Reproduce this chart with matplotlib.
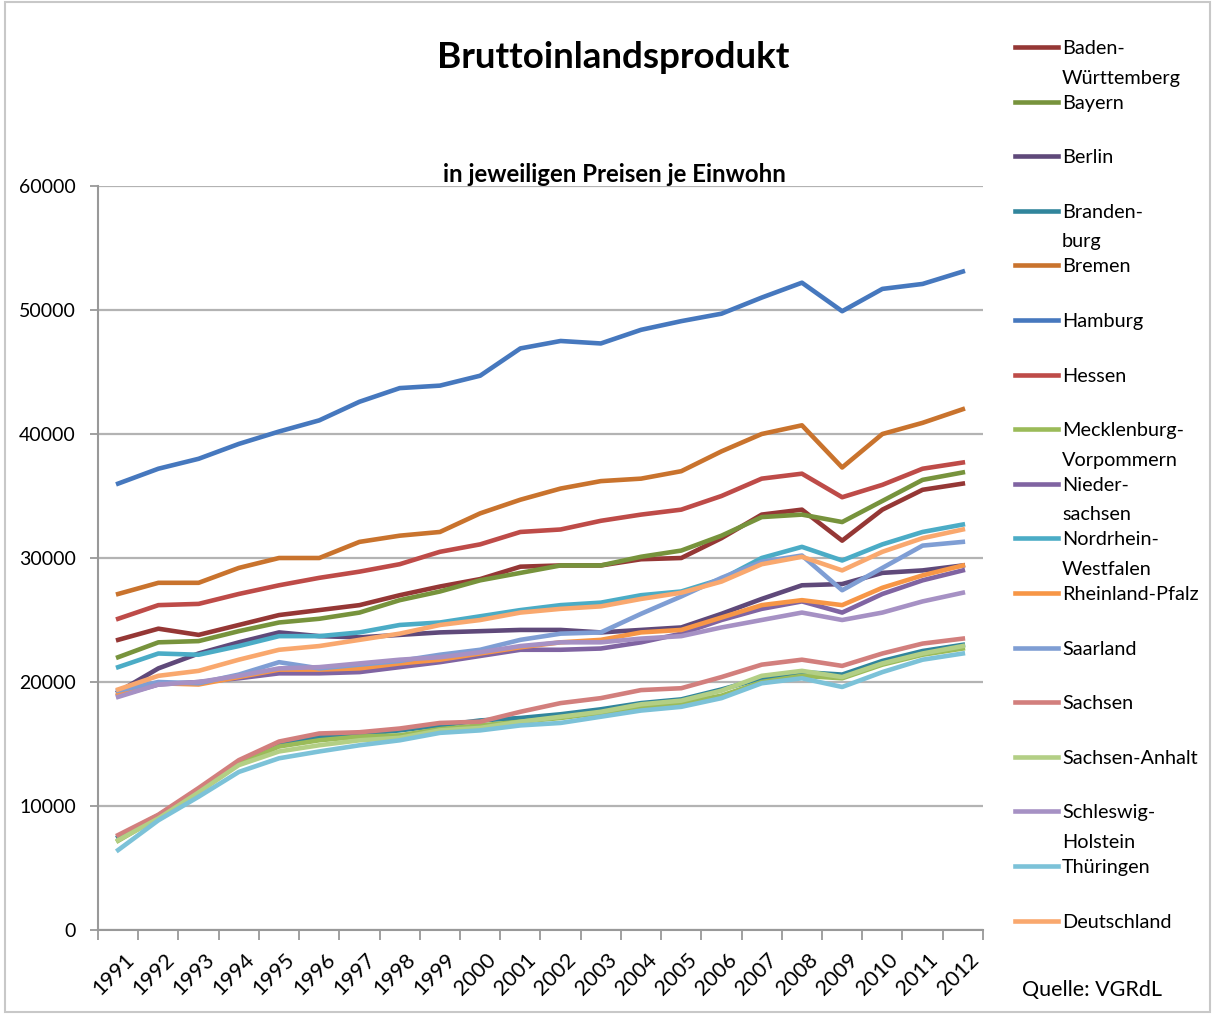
# BIP je Einwohner nach Bundeslaendern, 1991-2012
import matplotlib
matplotlib.use("Agg")
import matplotlib.pyplot as plt
import matplotlib.transforms as mtransforms
from matplotlib.lines import Line2D
from matplotlib.patches import Rectangle
import numpy as np

plt.rcParams["font.family"] = ["Lato", "DejaVu Sans"]

years = [str(y) for y in range(1991, 2013)]

baden_wuerttemberg = [23400, 24300, 23800, 24600, 25400, 25800, 26200, 27000, 27700, 28300, 29300,
                      29400, 29400, 29900, 30000, 31600, 33500, 33900, 31400, 33900, 35500, 36000]
bayern = [22000, 23200, 23300, 24100, 24800, 25100, 25600, 26600, 27300, 28200, 28800,
          29400, 29400, 30100, 30600, 31800, 33300, 33500, 32900, 34600, 36300, 36900]
berlin = [19200, 21100, 22300, 23200, 24000, 23700, 23600, 23800, 24000, 24100, 24200,
          24200, 24000, 24200, 24400, 25500, 26700, 27800, 27900, 28800, 29000, 29400]
brandenburg = [7500, 9250, 11300, 13500, 15000, 15600, 15800, 16100, 16500, 16900, 17100,
               17400, 17800, 18300, 18600, 19400, 20300, 20800, 20600, 21700, 22500, 23000]
bremen = [27100, 28000, 28000, 29200, 30000, 30000, 31300, 31800, 32100, 33600, 34700,
          35600, 36200, 36400, 37000, 38600, 40000, 40700, 37300, 40000, 40900, 42000]
hamburg = [36000, 37200, 38000, 39200, 40200, 41100, 42600, 43700, 43900, 44700, 46900,
           47500, 47300, 48400, 49100, 49700, 51000, 52200, 49900, 51700, 52100, 53100]
hessen = [25100, 26200, 26300, 27100, 27800, 28400, 28900, 29500, 30500, 31100, 32100,
          32300, 33000, 33500, 33900, 35000, 36400, 36800, 34900, 35900, 37200, 37700]
mecklenburg = [7200, 9100, 11200, 13400, 14800, 15300, 15600, 15700, 16200, 16500, 16800,
               17100, 17500, 18000, 18300, 18900, 20000, 20500, 20300, 21400, 22200, 22700]
niedersachsen = [18900, 19800, 20000, 20300, 20700, 20700, 20800, 21200, 21600, 22100, 22600,
                 22600, 22700, 23200, 23900, 25000, 25900, 26500, 25600, 27100, 28200, 29000]
nrw = [21200, 22300, 22200, 22900, 23700, 23700, 24000, 24600, 24800, 25300, 25800,
       26200, 26400, 27000, 27300, 28300, 30000, 30900, 29800, 31100, 32100, 32700]
rheinland_pfalz = [19000, 19900, 19800, 20400, 21000, 21000, 21100, 21500, 21800, 22300, 22800,
                   23200, 23400, 24000, 24200, 25200, 26200, 26600, 26200, 27600, 28600, 29400]
saarland = [19300, 20000, 19900, 20600, 21600, 21100, 21400, 21700, 22200, 22600, 23400,
            23900, 24000, 25500, 26900, 28400, 29700, 30200, 27400, 29200, 31000, 31300]
sachsen = [7660, 9300, 11450, 13700, 15200, 15850, 15950, 16250, 16700, 16800, 17600,
           18300, 18700, 19350, 19500, 20400, 21400, 21800, 21300, 22300, 23100, 23500]
sachsen_anhalt = [7250, 9000, 11100, 13300, 14400, 14900, 15300, 15500, 16100, 16300, 16800,
                  17200, 17600, 18200, 18500, 19300, 20500, 20900, 20400, 21500, 22300, 22900]
schleswig_holstein = [18800, 19800, 20000, 20500, 21100, 21200, 21500, 21800, 22000, 22400, 22900,
                      23200, 23200, 23500, 23700, 24400, 25000, 25600, 25000, 25600, 26500, 27200]
thueringen = [6450, 8850, 10750, 12750, 13850, 14400, 14900, 15300, 15900, 16100, 16500,
              16700, 17200, 17700, 18000, 18700, 19900, 20300, 19600, 20800, 21800, 22300]
deutschland = [19400, 20500, 20900, 21800, 22600, 22900, 23400, 23900, 24600, 25000, 25600,
               25900, 26100, 26700, 27200, 28100, 29500, 30100, 29000, 30500, 31600, 32300]

labels = ["Baden-\nWürttemberg", "Bayern", "Berlin", "Branden-\nburg", "Bremen", "Hamburg",
          "Hessen", "Mecklenburg-\nVorpommern", "Nieder-\nsachsen", "Nordrhein-\nWestfalen",
          "Rheinland-Pfalz", "Saarland", "Sachsen", "Sachsen-Anhalt", "Schleswig-\nHolstein",
          "Thüringen", "Deutschland"]
series = [baden_wuerttemberg, bayern, berlin, brandenburg, bremen, hamburg, hessen, mecklenburg,
          niedersachsen, nrw, rheinland_pfalz, saarland, sachsen, sachsen_anhalt,
          schleswig_holstein, thueringen, deutschland]
colors = ["#953735", "#77933C", "#5F497A", "#31859C", "#C9732D", "#4678BE", "#BE4B48",
          "#9BBB59", "#8064A2", "#4BACC6", "#F79646", "#7F9ED4", "#D27F7D", "#B3CF85",
          "#A691C4", "#7CC2D8", "#F9A86E"]

W, H = 1215, 1014
fig = plt.figure(figsize=(W / 100, H / 100), dpi=100)
ax = fig.add_axes([0.0807, 0.0828, 0.7283, 0.7338])

x = np.arange(len(years))
for vals, c, lab in zip(series, colors, labels):
    ax.plot(x, vals, color=c, lw=3.3, solid_joinstyle="round", label=lab)

ax.set_xlim(-0.5, len(years) - 0.5)
ax.set_ylim(0, 60000)
ax.set_yticks(np.arange(0, 60001, 10000))
ax.yaxis.grid(True, color="#B3B3B3", lw=1.6)
ax.set_axisbelow(True)

# labels at the category centres, tick marks between the categories
ax.set_xticks(x)
ax.set_xticklabels(years, rotation=45, ha="right", rotation_mode="anchor", fontsize=15.5)
ax.set_xticks(np.arange(-0.5, len(years)), minor=True)
ax.tick_params(axis="x", which="major", length=0, pad=14)
ax.tick_params(axis="x", which="minor", length=7, width=1.3, color="#999999")
ax.tick_params(axis="y", length=6, width=1.3, color="#999999", labelsize=14, pad=10)

offset = mtransforms.ScaledTranslation(4 / 72, 0, fig.dpi_scale_trans)
for lbl in ax.get_xticklabels():
    lbl.set_transform(lbl.get_transform() + offset)

for side in ["top", "right"]:
    ax.spines[side].set_visible(False)
for side in ["left", "bottom"]:
    ax.spines[side].set_color("#999999")
    ax.spines[side].set_linewidth(1.5)

fig.text(613 / W, 1 - 57 / H, "Bruttoinlandsprodukt", ha="center", va="center",
         fontsize=26.5, fontweight="bold")
fig.text(614 / W, 1 - 175 / H, "in jeweiligen Preisen je Einwohn", ha="center",
         va="center", fontsize=17.3, fontweight="bold")

# legend down the right side, handle next to the first line of each label
for i, (c, lab) in enumerate(zip(colors, labels)):
    ypx = 47 + i * 54.6
    fig.add_artist(Line2D([1015 / W, 1058 / W], [1 - ypx / H, 1 - ypx / H], color=c, lw=3.3))
    fig.text(1062 / W, 1 - (ypx - 7) / H, lab, ha="left", va="top", fontsize=14.3,
             linespacing=1.9)

fig.text(1022 / W, 1 - 990 / H, "Quelle: VGRdL", ha="left", va="center", fontsize=15.5)

fig.add_artist(Rectangle((0.004, 0.002), 0.992, 0.996, transform=fig.transFigure,
                         fill=False, edgecolor="#C8C8C8", lw=1.5))

fig.savefig("out.png", dpi=100)
